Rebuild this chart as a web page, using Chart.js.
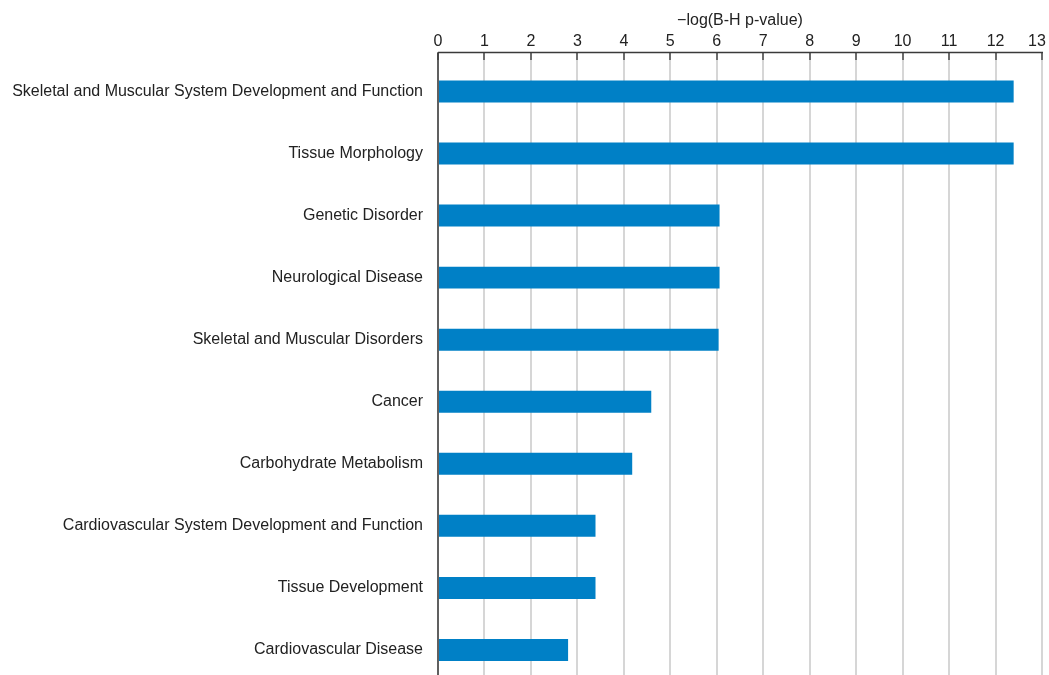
<!DOCTYPE html>
<html>
<head>
<meta charset="utf-8">
<script src="https://cdn.jsdelivr.net/npm/chart.js@4.4.0/dist/chart.umd.min.js"></script>
<style>
  html, body { margin: 0; padding: 0; background: #fff; overflow: hidden; }
  canvas { display: block; }
</style>
</head>
<body>
<canvas id="chart" width="1049" height="681" style="width:1049px;height:681px"></canvas>
<script>
const categories = [
  'Skeletal and Muscular System Development and Function',
  'Tissue Morphology',
  'Genetic Disorder',
  'Neurological Disease',
  'Skeletal and Muscular Disorders',
  'Cancer',
  'Carbohydrate Metabolism',
  'Cardiovascular System Development and Function',
  'Tissue Development',
  'Cardiovascular Disease'
];
const values = [12.39, 12.39, 6.06, 6.06, 6.04, 4.59, 4.18, 3.39, 3.39, 2.80];
const axisTitle = '\u2212log(B-H p-value)';
const xMin = 0, xMax = 13;

const TICK_LEN = 8;
const fontFamily = '"Liberation Sans", Arial, sans-serif';

// draws the top axis line above the tick marks and extends the left axis up to it
const axisLines = {
  id: 'axisLines',
  beforeDraw(chart) {
    // keep the last tick label inside the canvas, like the original
    const items = chart.scales.x.getLabelItems();
    const last = items[items.length - 1];
    if (last) last.options.translation[0] -= 5;
  },
  afterDraw(chart) {
    const { ctx, chartArea } = chart;
    const top = chartArea.top - TICK_LEN;
    ctx.save();
    ctx.strokeStyle = '#3a3a3a';
    ctx.lineWidth = 1.5;
    ctx.beginPath();
    ctx.moveTo(chartArea.left, top);
    ctx.lineTo(chartArea.right + 1, top);
    ctx.moveTo(chartArea.left, top);
    ctx.lineTo(chartArea.left, chartArea.bottom);
    ctx.stroke();
    ctx.restore();
  }
};

new Chart(document.getElementById('chart'), {
  type: 'bar',
  data: {
    labels: categories,
    datasets: [{
      data: values,
      backgroundColor: '#0080C6',
      borderWidth: 0,
      categoryPercentage: 1,
      barPercentage: 0.354
    }]
  },
  options: {
    indexAxis: 'y',
    responsive: false,
    animation: false,
    devicePixelRatio: 1,
    layout: { padding: { left: 0, right: 7, top: 11, bottom: 0 } },
    plugins: { legend: { display: false }, tooltip: { enabled: false } },
    scales: {
      x: {
        position: 'top',
        min: xMin,
        max: xMax,
        ticks: { stepSize: 1, color: '#222', padding: 1, font: { family: fontFamily, size: 16 } },
        grid: { color: '#d6d6d6', lineWidth: 2, tickLength: TICK_LEN, tickColor: '#3a3a3a', tickWidth: 1.5 },
        border: { display: false },
        title: {
          display: true,
          text: axisTitle,
          color: '#222',
          padding: { top: 0, bottom: 1 },
          font: { family: fontFamily, size: 16 }
        },
        afterFit(scale) { scale.paddingLeft = 0; scale.paddingRight = 0; }
      },
      y: {
        ticks: { color: '#222', padding: 15, font: { family: fontFamily, size: 16 } },
        grid: { display: false, drawTicks: false, tickLength: 0 },
        border: { display: false },
        afterFit(scale) { scale.width = 438; scale.paddingTop = 0; scale.paddingBottom = 0; }
      }
    }
  },
  plugins: [axisLines]
});
</script>
</body>
</html>
